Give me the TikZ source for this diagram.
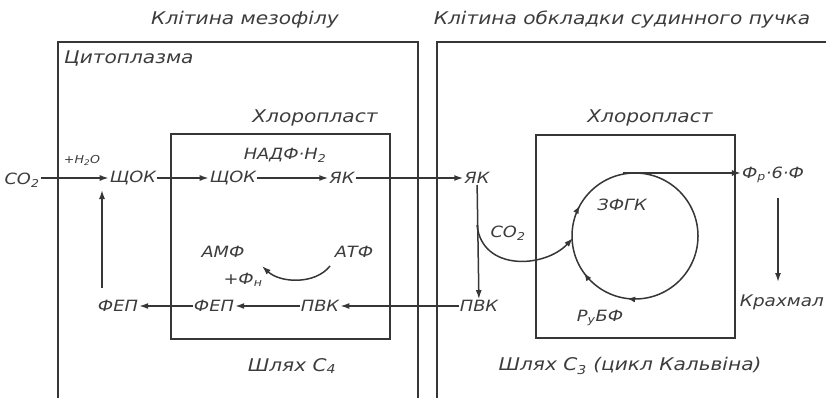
\documentclass[tikz,border=0pt]{standalone}
\usepackage{fontspec}
\setmainfont[FakeStretch=1.15]{DejaVu Sans}
\usetikzlibrary{arrows.meta,decorations.markings}
\definecolor{ink}{HTML}{363636}
\definecolor{txt}{HTML}{3C3C3C}
\tikzset{
  word/.style={font=\itshape\fontsize{17.5}{20}\selectfont, text=txt, inner sep=1pt},
  lbl/.style={font=\itshape\fontsize{15.5}{18}\selectfont, text=txt, inner sep=1pt},
  small/.style={font=\itshape\fontsize{11}{13}\selectfont, text=txt, inner sep=1pt},
  boxline/.style={draw=ink, line width=2.2pt},
  arr/.style={draw=ink, line width=1.5pt, -{Latex[length=9pt,width=6pt]}},
}
\begin{document}
\begin{tikzpicture}[x=1pt,y=-1pt]
\useasboundingbox (0,0) rectangle (826,398);
\begin{scope}
\clip (0,0) rectangle (826,398);
% outer boxes
\draw[boxline] (58,400) -- (58,42) -- (418,42) -- (418,400);
\draw[boxline] (437,400) -- (437,42) -- (830,42);
% chloroplasts
\draw[boxline] (171,134) rectangle (390,339);
\draw[boxline] (536,135) rectangle (735,338);
\end{scope}
% titles
\node[word] (t1) at (245,20) {Клітина мезофілу};
\node[word] (t2) at (622,20) {Клітина обкладки судинного пучка};
\node[word, anchor=west] (cyto) at (63,58) {Цитоплазма};
\node[word] (ch1) at (315,118) {Хлоропласт};
\node[word] (ch2) at (650,118) {Хлоропласт};
% C4 nodes
\node[lbl] (co2) at (22,180) {CO\textsubscript{2}};
\node[small] (h2o) at (82,160) {+H\textsubscript{2}O};
\node[lbl] (shok1) at (133,178) {ЩОК};
\node[lbl] (shok2) at (233,178) {ЩОК};
\node[lbl] (nadf) at (285,155) {НАДФ·H\textsubscript{2}};
\node[lbl] (yak1) at (342,178) {ЯК};
\node[lbl] (fep1) at (118,306) {ФЕП};
\node[lbl] (fep2) at (214,306) {ФЕП};
\node[lbl] (pvk1) at (320,306) {ПВК};
\node[lbl] (amf) at (223,252) {АМФ};
\node[lbl] (atf) at (354,252) {АТФ};
\node[lbl] (fn) at (243,280) {+Ф\textsubscript{н}};
\node[word] (shl4) at (292,366) {Шлях C\textsubscript{4}};
% C3 nodes
\node[lbl] (yak2) at (477,178) {ЯК};
\node[lbl] (pvk2) at (479,306) {ПВК};
\node[lbl] (co2b) at (508,233) {CO\textsubscript{2}};
\node[lbl] (zfgk) at (622,205) {ЗФГК};
\node[lbl] (rubf) at (600,318) {Р\textsubscript{у}БФ};
\node[lbl] (fr) at (773,175) {Ф\textsubscript{р}·6·Ф};
\node[lbl, font=\itshape\fontsize{16}{18}\selectfont, anchor=east] (starch) at (825,302) {Крахмал};
\node[word] (shl3) at (630,366) {Шлях C\textsubscript{3} (цикл Кальвіна)};
% connectors C4
\draw[arr] (co2.east |- shok1.west) -- (shok1.west);
\draw[arr] (shok1) -- (shok2);
\draw[arr] (shok2) -- (yak1);
\draw[arr] (yak1) -- (yak2);
\draw[arr] (pvk2) -- (pvk1);
\draw[arr] (pvk1) -- (fep2);
\draw[arr] (fep2) -- (fep1);
\coordinate (u1) at (102,288);
\coordinate (u2) at (102,190);
\draw[arr] (u1) -- (u2);
\coordinate (a1) at (330,266);
\coordinate (a2) at (262,266);
\draw[arr] (a1) .. controls (315,285) and (280,283) .. (a2);
% C3
\coordinate (cc) at (635,236);
\draw[arr] (yak2) -- (pvk2);
\coordinate (jn) at (477,225);
\coordinate (cl) at (573,238);
\draw[arr] (jn) .. controls (482,272) and (545,268) .. (cl);
\draw[draw=ink, line width=1.5pt, postaction={decorate},
  decoration={markings,
    mark=at position 0.27 with {\arrow{Latex[length=8pt,width=6pt]}},
    mark=at position 0.40 with {\arrow{Latex[length=8pt,width=6pt]}},
    mark=at position 0.58 with {\arrow{Latex[length=8pt,width=6pt]}}}]
  (cc) ++(0:63) arc[start angle=0, end angle=360, radius=63];
\coordinate (ctop) at (623,173);
\draw[arr] (ctop) -- (fr.west |- ctop);
\coordinate (d1) at (778,198);
\coordinate (d2) at (778,282);
\draw[arr] (d1) -- (d2);
\end{tikzpicture}
\end{document}
